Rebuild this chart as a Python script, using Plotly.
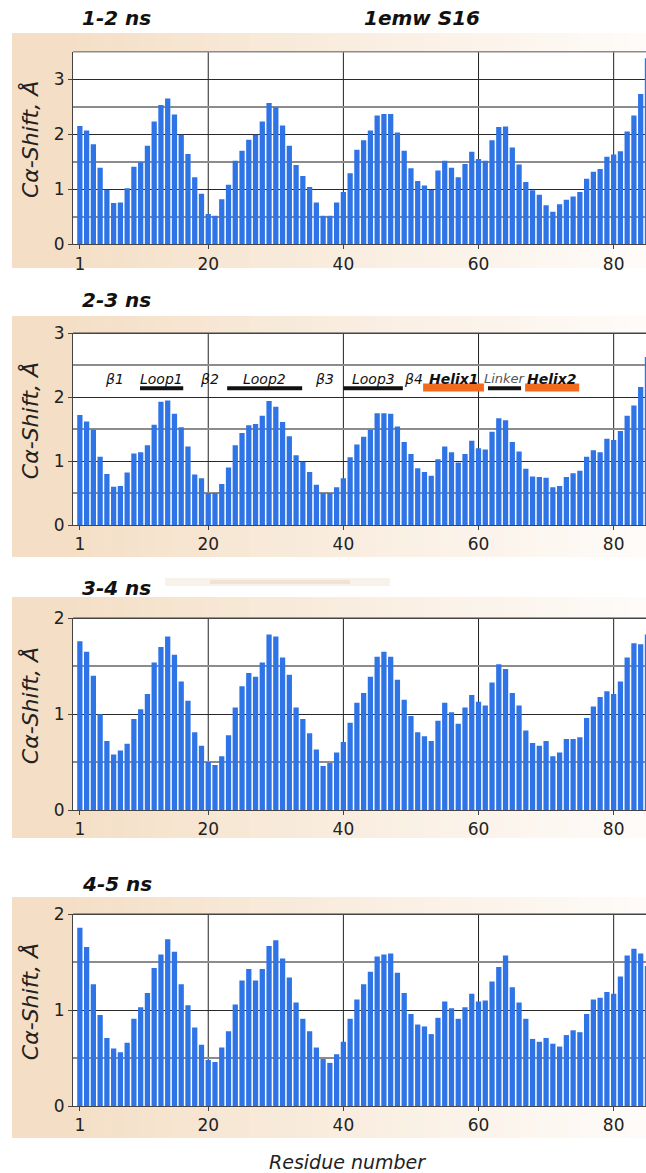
import plotly.graph_objects as go

W, H = 646, 1173

residues = list(range(1, 86))

shift_1_2 = [2.15, 2.07, 1.82, 1.39, 0.99, 0.75, 0.76, 1.02, 1.41, 1.49, 1.79, 2.23, 2.53, 2.65, 2.36, 1.99, 1.64, 1.22, 0.92, 0.55,
             0.52, 0.82, 1.08, 1.52, 1.70, 1.90, 1.99, 2.23, 2.57, 2.49, 2.16, 1.79, 1.44, 1.24, 1.04, 0.76, 0.52, 0.52, 0.76, 0.95,
             1.29, 1.72, 1.89, 2.07, 2.34, 2.37, 2.37, 2.03, 1.70, 1.38, 1.15, 1.07, 0.99, 1.34, 1.52, 1.39, 1.22, 1.46, 1.68, 1.55,
             1.52, 1.89, 2.13, 2.14, 1.76, 1.45, 1.13, 0.98, 0.90, 0.71, 0.59, 0.73, 0.81, 0.87, 0.95, 1.19, 1.32, 1.37, 1.59, 1.63,
             1.69, 2.05, 2.34, 2.73, 3.38]

shift_2_3 = [1.72, 1.62, 1.49, 1.07, 0.80, 0.60, 0.61, 0.82, 1.12, 1.14, 1.25, 1.57, 1.93, 1.95, 1.74, 1.53, 1.23, 0.79, 0.73, 0.50,
             0.50, 0.64, 0.90, 1.25, 1.44, 1.56, 1.58, 1.71, 1.94, 1.85, 1.61, 1.39, 1.09, 0.99, 0.83, 0.63, 0.50, 0.50, 0.59, 0.73,
             1.06, 1.26, 1.38, 1.49, 1.75, 1.75, 1.74, 1.54, 1.30, 1.11, 0.89, 0.83, 0.77, 1.03, 1.23, 1.14, 0.98, 1.11, 1.32, 1.20,
             1.18, 1.46, 1.67, 1.64, 1.30, 1.15, 0.88, 0.76, 0.75, 0.74, 0.59, 0.61, 0.75, 0.81, 0.85, 1.07, 1.17, 1.14, 1.35, 1.33,
             1.47, 1.71, 1.87, 2.16, 2.63]

shift_3_4 = [1.76, 1.65, 1.40, 1.00, 0.72, 0.58, 0.62, 0.69, 0.95, 1.05, 1.21, 1.54, 1.70, 1.81, 1.62, 1.34, 1.14, 0.81, 0.67, 0.50,
             0.47, 0.56, 0.78, 1.07, 1.29, 1.43, 1.39, 1.54, 1.83, 1.81, 1.59, 1.41, 1.07, 0.95, 0.80, 0.63, 0.46, 0.49, 0.60, 0.71,
             0.91, 1.12, 1.22, 1.39, 1.60, 1.65, 1.60, 1.36, 1.15, 0.98, 0.81, 0.77, 0.72, 0.93, 1.12, 1.02, 0.90, 1.07, 1.20, 1.13,
             1.09, 1.33, 1.52, 1.47, 1.22, 1.09, 0.83, 0.70, 0.67, 0.72, 0.56, 0.60, 0.74, 0.74, 0.76, 0.96, 1.08, 1.18, 1.24, 1.21,
             1.34, 1.59, 1.74, 1.73, 1.83]

shift_4_5 = [1.86, 1.66, 1.27, 0.95, 0.71, 0.60, 0.56, 0.66, 0.91, 1.03, 1.18, 1.44, 1.58, 1.74, 1.61, 1.27, 1.05, 0.82, 0.64, 0.48,
             0.46, 0.61, 0.78, 1.06, 1.31, 1.43, 1.31, 1.43, 1.67, 1.73, 1.54, 1.34, 1.08, 0.91, 0.78, 0.61, 0.49, 0.45, 0.54, 0.67,
             0.91, 1.11, 1.27, 1.40, 1.56, 1.58, 1.59, 1.39, 1.18, 0.96, 0.85, 0.83, 0.75, 0.92, 1.09, 1.02, 0.91, 1.03, 1.17, 1.09,
             1.10, 1.30, 1.45, 1.57, 1.24, 1.08, 0.91, 0.70, 0.67, 0.71, 0.65, 0.62, 0.74, 0.79, 0.77, 0.96, 1.11, 1.13, 1.19, 1.17,
             1.35, 1.57, 1.64, 1.59, 1.46]

panel_titles = ["1-2 ns", "2-3 ns", "3-4 ns", "4-5 ns"]
series = [shift_1_2, shift_2_3, shift_3_4, shift_4_5]
y_max = [3.5, 3, 2, 2]
x_tick_vals = [1, 20, 40, 60, 80]
x_grid_vals = [20, 40, 60, 80]

# secondary-structure segments (label, start residue, end residue, kind)
segments = [("β1", 5.7, 6.7, "none"), ("Loop1", 9.9, 16.3, "loop"), ("β2", 19.7, 20.7, "none"),
            ("Loop2", 22.8, 33.9, "loop"), ("β3", 36.7, 37.7, "none"), ("Loop3", 40.0, 48.8, "loop"),
            ("β4", 49.9, 50.9, "none"), ("Helix1", 51.8, 60.8, "helix"), ("Linker", 61.4, 66.3, "linker"),
            ("Helix2", 66.9, 74.9, "helix")]

# layout geometry (pixels)
plot_left = 73.1
plot_tops = [51.7, 333.3, 618.3, 914.3]
plot_bots = [244.3, 525.0, 810.0, 1106.0]
box_tops = [33, 316, 597, 897]
box_bots = [268, 557, 838, 1138]
title_y = [18, 300, 588, 884]

BAR = "#2f74e6"
FONT = "DejaVu Sans"


def py(px):
    return 1 - px / H


def px_x(px):
    return px / W


fig = go.Figure()
shapes = []
annotations = []

# beige gradient boxes
N = 40
c0 = (244, 222, 197)
c1 = (254, 251, 248)
for bt, bb in zip(box_tops, box_bots):
    x0 = 12
    x1 = W
    for k in range(N):
        t = k / (N - 1)
        f = min(1, max(0, (t - 0.08) / 0.92)) ** 0.9
        col = tuple(int(round(c0[j] + (c1[j] - c0[j]) * f)) for j in range(3))
        xa = x0 + (x1 - x0) * k / N
        xb = x0 + (x1 - x0) * (k + 1) / N + 0.8
        shapes.append(dict(type="rect", xref="paper", yref="paper", x0=px_x(xa), x1=px_x(min(xb, W)),
                           y0=py(bb), y1=py(bt), fillcolor="rgb(%d,%d,%d)" % col, line=dict(width=0),
                           layer="below"))

# faint smudge near third panel title
shapes.append(dict(type="rect", xref="paper", yref="paper", x0=px_x(165), x1=px_x(390), y0=py(586), y1=py(578),
                   fillcolor="rgba(225,195,160,0.22)", line=dict(width=0), layer="below"))
shapes.append(dict(type="rect", xref="paper", yref="paper", x0=px_x(210), x1=px_x(350), y0=py(584), y1=py(580),
                   fillcolor="rgba(205,160,115,0.18)", line=dict(width=0), layer="below"))

# white plot areas
for pt, pb in zip(plot_tops, plot_bots):
    shapes.append(dict(type="rect", xref="paper", yref="paper", x0=px_x(plot_left), x1=1, y0=py(pb), y1=py(pt),
                       fillcolor="white", line=dict(width=0), layer="below"))

layout_axes = {}
for i in range(4):
    n = i + 1
    xa = "x" if n == 1 else "x%d" % n
    ya = "y" if n == 1 else "y%d" % n
    fig.add_trace(go.Bar(x=residues, y=series[i], xaxis=xa, yaxis=ya, marker=dict(color=BAR, line=dict(width=0)),
                         width=0.78, showlegend=False, hoverinfo="x+y"))
    xkey = "xaxis" if n == 1 else "xaxis%d" % n
    ykey = "yaxis" if n == 1 else "yaxis%d" % n
    layout_axes[xkey] = dict(domain=[px_x(plot_left), 1], range=[0, (W - plot_left) / 6.757], anchor=ya,
                             automargin=False,
                             tickmode="array", tickvals=x_tick_vals, ticktext=[str(v) for v in x_tick_vals],
                             ticks="outside", ticklen=4, tickcolor="#444", showgrid=False, zeroline=False,
                             showline=True, linecolor="#444", linewidth=1,
                             tickfont=dict(family=FONT, size=17, color="#222"))
    yt = list(range(0, int(y_max[i]) + 1))
    half = [k * 0.5 for k in range(1, int(y_max[i] * 2) + 1) if (k % 2) == 1]
    layout_axes[ykey] = dict(domain=[py(plot_bots[i]), py(plot_tops[i])], range=[0, y_max[i]], anchor=xa,
                             automargin=False,
                             tickmode="array", tickvals=yt, ticktext=[str(v) for v in yt],
                             ticks="outside", ticklen=4, tickcolor="#444", showgrid=True, gridcolor="#2a2a2a",
                             gridwidth=1, zeroline=False, showline=True, linecolor="#444", linewidth=1,
                             tickfont=dict(family=FONT, size=17, color="#222"),
                             minor=dict(tickmode="array", tickvals=half, showgrid=True, gridcolor="#8c8c8c",
                                        gridwidth=1.5, ticks=""))
    # vertical grid lines (drawn after white plot rects, below traces)
    for gx in x_grid_vals:
        shapes.append(dict(type="line", xref=xa, yref="paper", x0=gx, x1=gx,
                           y0=py(plot_bots[i]), y1=py(plot_tops[i]),
                           line=dict(color="#222", width=1), layer="below"))
    # top border
    shapes.append(dict(type="line", xref="paper", yref="paper", x0=px_x(plot_left), x1=1,
                       y0=py(plot_tops[i]), y1=py(plot_tops[i]),
                       line=dict(color="#8c8c8c" if y_max[i] % 1 else "#444", width=1.5), layer="below"))
    # y title
    annotations.append(dict(text="Cα-Shift, Å", xref="paper", yref="paper", x=px_x(30),
                            y=py((plot_tops[i] + plot_bots[i]) / 2 - 8), textangle=-90, showarrow=False,
                            font=dict(family=FONT, size=22, color="#222", style="italic"),
                            xanchor="center", yanchor="middle"))
    # panel title
    annotations.append(dict(text="<b><i>%s</i></b>" % panel_titles[i], xref="paper", yref="paper", x=px_x(80),
                            y=py(title_y[i]), showarrow=False, xanchor="left", yanchor="middle",
                            font=dict(family=FONT, size=20, color="#111")))

annotations.append(dict(text="<b><i>1emw S16</i></b>", xref="paper", yref="paper", x=px_x(362), y=py(18),
                        showarrow=False, xanchor="left", yanchor="middle",
                        font=dict(family=FONT, size=20, color="#111")))
annotations.append(dict(text="<i>Residue number</i>", xref="paper", yref="paper", x=px_x(347), y=py(1162),
                        showarrow=False, xanchor="center", yanchor="middle",
                        font=dict(family=FONT, size=19, color="#222")))

# secondary-structure labels on panel 2
for label, s, e, kind in segments:
    mid = (s + e) / 2
    if kind == "linker":
        txt = "<i>%s</i>" % label
        fcol = "#555"
        fsize = 13
    elif kind == "helix":
        txt = "<b><i>%s</i></b>" % label
        fcol = "#111"
        fsize = 14
    else:
        txt = "<i>%s</i>" % label
        fcol = "#111"
        fsize = 14
    annotations.append(dict(text=txt, xref="x2", yref="y2", x=mid, y=2.29, showarrow=False,
                            xanchor="center", yanchor="middle", font=dict(family=FONT, size=fsize, color=fcol)))
    if kind in ("loop", "linker"):
        shapes.append(dict(type="line", xref="x2", yref="y2", x0=s, x1=e, y0=2.14, y1=2.14,
                           line=dict(color="#111", width=4), layer="above"))
    elif kind == "helix":
        shapes.append(dict(type="line", xref="x2", yref="y2", x0=s, x1=e, y0=2.15, y1=2.15,
                           line=dict(color="#f26a1b", width=8), layer="above"))

fig.update_layout(width=W, height=H, margin=dict(l=0, r=0, t=0, b=0, autoexpand=False), paper_bgcolor="white",
                  plot_bgcolor="rgba(0,0,0,0)", shapes=shapes, annotations=annotations, bargap=0.2,
                  **layout_axes)

fig.write_html("out.html")
